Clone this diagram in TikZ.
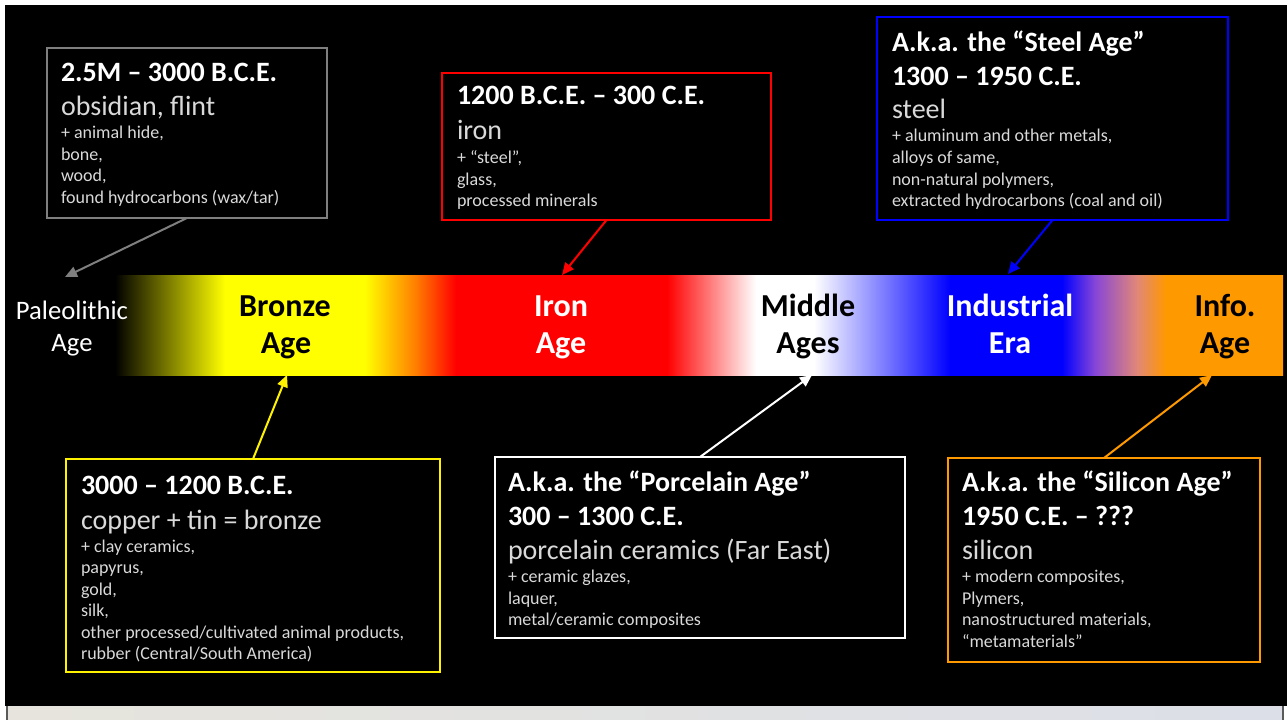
\documentclass[tikz,border=0pt]{standalone}
\usepackage{fontspec}
\setmainfont{Carlito}
\usetikzlibrary{arrows.meta}
\definecolor{boxgray}{RGB}{127,127,127}
\definecolor{lgray}{RGB}{217,217,217}
\definecolor{infoorange}{RGB}{255,153,0}
\definecolor{orangeA}{RGB}{255,128,0}
\definecolor{purpleA}{RGB}{135,70,215}
\definecolor{salmonA}{RGB}{225,135,120}
\definecolor{stripL}{RGB}{230,228,220}
\definecolor{stripR}{RGB}{220,223,232}
\definecolor{stripEdge}{RGB}{90,90,90}
\pgfdeclarehorizontalshading{agebar}{100bp}{color(0bp)=(black); color(25bp)=(black); color(29.71bp)=(yellow); color(35.70bp)=(yellow); color(37.84bp)=(orangeA); color(39.60bp)=(red); color(48.63bp)=(red); color(52.44bp)=(white); color(54.92bp)=(white); color(60.75bp)=(blue); color(65.54bp)=(blue); color(66.95bp)=(purpleA); color(68.75bp)=(salmonA); color(69.99bp)=(infoorange); color(75bp)=(infoorange); color(100bp)=(infoorange)}
\begin{document}
\begin{tikzpicture}[x=0.75pt,y=-0.75pt,
  every node/.style={inner sep=0pt, outer sep=0pt},
  hd/.style={font=\fontsize{21}{25}\selectfont\bfseries, text=white, anchor=base west},
  mt/.style={font=\fontsize{21}{25}\selectfont, text=lgray, anchor=base west},
  sm/.style={font=\fontsize{13.5}{16}\selectfont, text=lgray, anchor=base west},
  era/.style={font=\fontsize{24}{29}\selectfont\bfseries, anchor=base},
  frame/.style={draw, line width=1.5pt, fill=black, anchor=north west},
  arr/.style={line width=1.5pt, -{Triangle[length=9pt,width=8pt]}}
]
\useasboundingbox (0,0) rectangle (1287,720);
\fill[white] (0,0) rectangle (1287,720);
\fill[black] (5,5) rectangle (1287,706);
\shade[left color=stripL, right color=stripR] (7,706) rectangle (1283,720);
\draw[stripEdge, line width=1pt] (7,706) -- (7,720);
\draw[stripEdge, line width=1pt] (1283,706) -- (1283,720);

% bar
\node[anchor=north west, minimum width=876pt, minimum height=75pt, shade, shading=agebar] (bar) at (115,275) {};

% boxes
\node[frame, draw=boxgray, minimum width=210pt, minimum height=127.5pt] (gbox) at (47,48) {};
\node[frame, draw=red, minimum width=246.75pt, minimum height=110.25pt] (rbox) at (442,73) {};
\node[frame, draw=blue, minimum width=263.25pt, minimum height=152.25pt] (bbox) at (877,17) {};
\node[frame, draw=yellow, minimum width=280.5pt, minimum height=159.75pt] (ybox) at (66,459) {};
\node[frame, draw=white, minimum width=307.5pt, minimum height=135.75pt] (wbox) at (495,457) {};
\node[frame, draw=infoorange, minimum width=234pt, minimum height=153pt] (obox) at (948,458) {};

% arrow tips
\coordinate (tipP) at (65,277);
\coordinate (tipI) at (562,275);
\coordinate (tipS) at (1008,274);
\coordinate (tipB) at (287,375);
\coordinate (tipM) at (812,375);
\coordinate (tipN) at (1212,375);

\draw[arr, color=boxgray] (gbox.south) -- (tipP);
\draw[arr, color=red] (rbox.south) -- (tipI);
\draw[arr, color=blue] (bbox.south) -- (tipS);
\draw[arr, color=yellow] (ybox.north) -- (tipB);
\draw[arr, color=white] (wbox.north) -- (tipM);
\draw[arr, color=infoorange] (obox.north) -- (tipN);

% bar labels
\node[font=\fontsize{20}{24}\selectfont, text=white, anchor=base] (pal1) at (72,319) {Paleolithic};
\node[font=\fontsize{20}{24}\selectfont, text=white, anchor=base] (pal2) at (72,351) {Age};
\node[era, text=black] (br1) at (285,316) {Bronze};
\node[era, text=black] (br2) at (286,353) {Age};
\node[era, text=white] (ir1) at (561,316) {Iron};
\node[era, text=white] (ir2) at (561,353) {Age};
\node[era, text=black] (mi1) at (808,316) {Middle};
\node[era, text=black] (mi2) at (808,353) {Ages};
\node[era, text=white] (in1) at (1010,316) {Industrial};
\node[era, text=white] (in2) at (1010,353) {Era};
\node[era, text=black] (if1) at (1225,316) {Info.};
\node[era, text=black] (if2) at (1225,353) {Age};

% gray box text
\node[hd] (g1) at (61,82) {2.5M – 3000 B.C.E.};
\node[mt] (g2) at (61,116) {obsidian, flint};
\node[sm] (g3) at (61,139) {+ animal hide,};
\node[sm] (g4) at (61,161) {bone,};
\node[sm] (g5) at (61,182) {wood,};
\node[sm] (g6) at (61,204) {found hydrocarbons (wax/tar)};

% red box text
\node[hd] (r1) at (457,105) {1200 B.C.E. – 300 C.E.};
\node[mt] (r2) at (457,140) {iron};
\node[sm] (r3) at (457,164) {+ “steel”,};
\node[sm] (r4) at (457,185.5) {glass,};
\node[sm] (r5) at (457,207) {processed minerals};

% blue box text
\node[hd] (b1) at (892,52) {A.k.a. the “Steel Age”};
\node[hd] (b2) at (892,86) {1300 – 1950 C.E.};
\node[mt] (b3) at (892,119) {steel};
\node[sm] (b4) at (892,142) {+ aluminum and other metals,};
\node[sm] (b5) at (892,164) {alloys of same,};
\node[sm] (b6) at (892,185.5) {non-natural polymers,};
\node[sm] (b7) at (892,207) {extracted hydrocarbons (coal and oil)};

% yellow box text
\node[hd] (y1) at (81,494) {3000 – 1200 B.C.E.};
\node[mt] (y2) at (81,529) {copper + tin = bronze};
\node[sm] (y3) at (81,552) {+ clay ceramics,};
\node[sm] (y4) at (81,573.5) {papyrus,};
\node[sm] (y5) at (81,595) {gold,};
\node[sm] (y6) at (81,616.5) {silk,};
\node[sm] (y7) at (81,638) {other processed/cultivated animal products,};
\node[sm] (y8) at (81,659.5) {rubber (Central/South America)};

% white box text
\node[hd] (w1) at (508,491) {A.k.a. the “Porcelain Age”};
\node[hd] (w2) at (508,525) {300 – 1300 C.E.};
\node[mt] (w3) at (508,559) {porcelain ceramics (Far East)};
\node[sm] (w4) at (508,582.5) {+ ceramic glazes,};
\node[sm] (w5) at (508,604) {laquer,};
\node[sm] (w6) at (508,625.5) {metal/ceramic composites};

% orange box text
\node[hd] (o1) at (962,491) {A.k.a. the “Silicon Age”};
\node[hd] (o2) at (962,525) {1950 C.E. – ???};
\node[mt] (o3) at (962,559) {silicon};
\node[sm] (o4) at (962,582.5) {+ modern composites,};
\node[sm] (o5) at (962,604) {Plymers,};
\node[sm] (o6) at (962,625.5) {nanostructured materials,};
\node[sm] (o7) at (962,647) {“metamaterials”};
\end{tikzpicture}
\end{document}
